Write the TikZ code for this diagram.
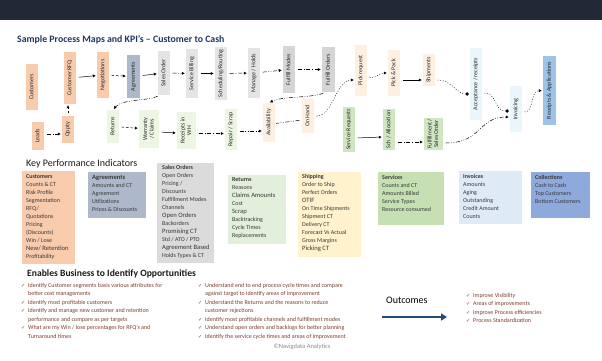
\documentclass[tikz,border=0pt]{standalone}
\usepackage{fontspec}
\usepackage{graphicx}
\setmainfont{Carlito}
\newfontfamily\symfont{DejaVu Sans}
\usetikzlibrary{arrows.meta}

% palette
\definecolor{cBar}{HTML}{222835}
\definecolor{cTitle}{HTML}{203864}
\definecolor{cPeach}{HTML}{F8CBAD}
\definecolor{cSlate}{HTML}{ADB9CA}
\definecolor{cGrayL}{HTML}{E4E4E4}
\definecolor{cGrayM}{HTML}{D5D5D5}
\definecolor{cGreenL}{HTML}{ECF6E2}
\definecolor{cOrangeL}{HTML}{FDF0E1}
\definecolor{cGreenM}{HTML}{D0E6C2}
\definecolor{cBlueXL}{HTML}{EAF5FC}
\definecolor{cBlueM}{HTML}{9DC3E6}
\definecolor{kSales}{HTML}{DBDBDB}
\definecolor{kReturns}{HTML}{E2EFDA}
\definecolor{kShip}{HTML}{FFF2CC}
\definecolor{kServ}{HTML}{C6E0B4}
\definecolor{kInv}{HTML}{DEEBF7}
\definecolor{kColl}{HTML}{8EA9DB}
\definecolor{cList}{HTML}{7A3E30}
\definecolor{cNavy}{HTML}{1F4E79}

% vertical label inside a process box
\newcommand\vt[1]{\rotatebox{90}{\begin{tabular}{@{}c@{}}#1\end{tabular}}}
% emphasised KPI line
\newcommand\bg[1]{{\fontsize{6.6}{8}\selectfont #1}}
% list bullets
\newcommand\chk{\makebox[7pt][l]{\symfont\fontsize{5}{5}\selectfont ✓}}
\newcommand\nochk{\hspace*{7pt}}

\tikzset{
  pbox/.style={draw=none, inner sep=0pt, font=\fontsize{6}{6.6}\selectfont, text=black!85},
  kbox/.style={draw=none, inner sep=0pt, anchor=north west},
  ktext/.style={anchor=north west, align=left, inner sep=0pt,
                font=\fontsize{6}{8}\selectfont, text=black!78},
  conn/.style={line width=0.5pt, black, shorten <=2.5pt, shorten >=1pt,
               -{Latex[length=3pt,width=3.2pt]}},
  solidc/.style={conn},
  dashc/.style={conn, dash pattern=on 2.5pt off 2pt},
  ddc/.style={conn, dash pattern=on 4pt off 2pt on 0.7pt off 2pt},
  dddc/.style={conn, dash pattern=on 4pt off 1.6pt on 0.7pt off 1.6pt on 0.7pt off 1.6pt},
  dotc/.style={conn, dash pattern=on 0.8pt off 1.8pt},
  dotend/.style={conn, dash pattern=on 0.8pt off 1.8pt, -{Circle[length=3.4pt]}},
  listtext/.style={anchor=north west, align=left, inner sep=0pt,
                   font=\fontsize{6}{8.5}\selectfont, text=cList},
}

\begin{document}
\begin{tikzpicture}[x=1pt,y=-1pt]
\useasboundingbox (0,0) rectangle (602,360);
\fill[white] (0,0) rectangle (602,360);
\fill[cBar] (0,0) rectangle (602,20);

\node[anchor=base west, inner sep=0pt, text=cTitle, font=\fontsize{9.8}{11}\selectfont\bfseries]
  (title) at (17,42) {Sample Process Maps and KPI’s – Customer to Cash};

% ---------- process boxes, upper flow ----------
\node[pbox, fill=cPeach, minimum width=12pt, minimum height=46pt] (cust) at (32,87) {\vt{Customers}};
\node[pbox, fill=cPeach, minimum width=12pt, minimum height=52pt] (crfq) at (70,78) {\vt{Customer RFQ}};
\node[pbox, fill=cPeach, minimum width=12pt, minimum height=46pt] (nego) at (103,75) {\vt{Negotiations}};
\node[pbox, fill=cSlate, minimum width=13pt, minimum height=43pt] (agre) at (133.5,76.5) {\vt{Agreements}};
\node[pbox, fill=cGrayL, minimum width=12pt, minimum height=44pt] (so) at (164,73) {\vt{Sales Order}};
\node[pbox, fill=cGrayL, minimum width=12pt, minimum height=49pt] (sbill) at (192,73.5) {\vt{Service Billing}};
\node[pbox, fill=cGrayL, minimum width=12pt, minimum height=53pt] (sched) at (221,73.5) {\vt{Scheduling/Routing}};
\node[pbox, fill=cGrayL, minimum width=12pt, minimum height=50pt] (manage) at (254,73) {\vt{Manage / Holds}};
\node[pbox, fill=cGrayM, minimum width=12pt, minimum height=47pt] (fmodes) at (289,69.5) {\vt{Fulfill Modes}};
\node[pbox, fill=cGrayM, minimum width=13pt, minimum height=45pt] (forders) at (328.5,69.5) {\vt{Fulfill Orders}};
\node[pbox, fill=cOrangeL, minimum width=12pt, minimum height=51pt] (pickreq) at (361,70.5) {\vt{Pick request}};
\node[pbox, fill=cOrangeL, minimum width=12pt, minimum height=46pt] (pickpack) at (394,73) {\vt{Pick \& Pack}};
\node[pbox, fill=cOrangeL, minimum width=12pt, minimum height=32pt] (ship) at (429,70) {\vt{Shipments}};
\node[pbox, fill=cBlueXL, minimum width=12pt, minimum height=72pt] (accept) at (476,84) {\vt{Acceptance / receipts}};
\node[pbox, fill=cBlueXL, minimum width=12pt, minimum height=46pt] (invoicing) at (516,109) {\vt{Invoicing}};
\node[pbox, fill=cBlueM, minimum width=13pt, minimum height=69pt] (rapp) at (549.5,90.5) {\vt{Receipts \& Applications}};

% ---------- process boxes, lower flow ----------
\node[pbox, fill=cPeach, minimum width=12pt, minimum height=28pt] (leads) at (38,136) {\vt{Leads}};
\node[pbox, fill=cPeach, minimum width=12pt, minimum height=27pt] (oppty) at (68,129.5) {\vt{Oppty}};
\node[pbox, fill=cGreenL, minimum width=12pt, minimum height=33pt] (returns) at (113,126.5) {\vt{Returns}};
\node[pbox, fill=cGreenL, minimum width=20pt, minimum height=38pt] (warranty) at (149,129) {\vt{Warranty\\/ Claims}};
\node[pbox, fill=cGreenL, minimum width=19pt, minimum height=37pt] (rwh) at (186.5,130.5) {\vt{Receipts in\\WH}};
\node[pbox, fill=cGreenL, minimum width=12pt, minimum height=41pt] (repair) at (231,129.5) {\vt{Repair / Scrap}};
\node[pbox, fill=cOrangeL, minimum width=12pt, minimum height=39pt] (avail) at (269,122.5) {\vt{Availability}};
\node[pbox, fill=cOrangeL, minimum width=12pt, minimum height=34pt] (onhand) at (308,116) {\vt{On Hand}};
\node[pbox, fill=cGreenM, minimum width=12pt, minimum height=45pt] (sreq) at (349,129.5) {\vt{Service Requests}};
\node[pbox, fill=cGreenM, minimum width=12pt, minimum height=41pt] (sch) at (389,129.5) {\vt{Sch / Allocation}};
\node[pbox, fill=cGreenM, minimum width=19pt, minimum height=32pt] (fso) at (433.5,134) {\vt{Fulfillment /\\Sales Order}};

% ---------- connectors, upper flow ----------
\draw[solidc] (crfq) -- (nego);
\draw[dashc] (nego) -- (agre);
\draw[solidc] (agre) -- (so);
\draw[dddc] (so) -- (sbill);
\draw[solidc] (sbill) -- (sched);
\draw[ddc] (sched) -- (manage);
\draw[dddc] (manage) -- (fmodes);
\draw[ddc] (fmodes) -- (forders);
\draw[dddc] ([xshift=-3pt]forders.south) .. controls (312,98) and (283,96) .. (avail.north);
\draw[dotc] (onhand.east) .. controls (333,116) and (336,80) .. ([yshift=-9.5pt]pickreq.west);
\draw[dotc] ([yshift=-7pt]pickreq.east) .. controls (378,78) and (378,73) .. (pickpack.west);
\draw[solidc] ([yshift=-7pt]pickpack.east) -- ([yshift=-10pt]ship.west);
\draw[dotend] ([yshift=-10pt]ship.east) .. controls (452,80) and (456,94) .. ([yshift=-10pt]accept.west);
\draw[dotend] ([yshift=-9pt]accept.east) .. controls (497,93) and (494,111) .. ([yshift=-2pt]invoicing.west);
\draw[dotc] ([yshift=-3pt]invoicing.east) .. controls (534,112) and (530,91) .. (rapp.west);
\draw[dddc] ([xshift=2pt]so.south west) .. controls (148,101) and (122,99) .. (returns.north);

% ---------- connectors, lower flow ----------
\draw[dashc] (oppty.north) -- (oppty.north |- crfq.south);
\draw[ddc] ([yshift=2pt]leads.east) -- ([yshift=-4.5pt]oppty.west);
\draw[dashc] (returns) -- (warranty);
\draw[solidc] ([yshift=-3pt]warranty.east) -- ([yshift=-2.5pt]rwh.west);
\draw[ddc] ([yshift=-3pt]rwh.east) -- ([yshift=-4pt]repair.west);
\draw[dddc] ([yshift=-1.5pt]repair.east) -- ([yshift=-8.5pt]avail.west);
\draw[dddc, -] ([yshift=-4pt]onhand.west) -- ([yshift=-1pt]avail.east);
\draw[solidc] ([yshift=-8.5pt]sreq.east) -- ([yshift=-7.5pt]sch.west);
\draw[ddc] ([yshift=-12.5pt]sch.east) -- ([yshift=-8pt]fso.west);
\draw[dddc] ([yshift=-9pt]fso.east) .. controls (482,143) and (478,117) .. ([yshift=-8pt]invoicing.west);

% ---------- KPI section ----------
\node[anchor=base west, inner sep=0pt, font=\fontsize{10}{11}\selectfont, text=black!90]
  (kpihead) at (26,166) {Key Performance Indicators};

\node[kbox, fill=cPeach, minimum width=53pt, minimum height=93pt] (kcust) at (22,171) {};
\node[ktext] at ([shift={(4pt,-3pt)}]kcust.north west)
  {\textbf{Customers}\\Counts \& CT\\Risk Profile\\Segmentation\\RFQ/\\Quotations\\Pricing\\(Discounts)\\Win / Lose\\\bg{New/ Retention}\\Profitability};

\node[kbox, fill=cSlate, minimum width=58pt, minimum height=46pt] (kagre) at (88,172) {};
\node[ktext] at ([shift={(4pt,-3pt)}]kagre.north west)
  {\bg{\textbf{Agreements}}\\Amounts and CT\\Agreement\\Utilizations\\Prices \& Discounts};

\node[kbox, fill=kSales, minimum width=57pt, minimum height=100pt] (ksales) at (157,163) {};
\node[ktext] at ([shift={(5pt,-2pt)}]ksales.north west)
  {\textbf{Sales Orders}\\Open Orders\\Pricing /\\Discounts\\Fulfillment Modes\\Channels\\\bg{Open Orders}\\Backorders\\\bg{Promising CT}\\Std / ATO / PTO\\\bg{Agreement Based}\\Holds Types \& CT};

\node[kbox, fill=kReturns, minimum width=58pt, minimum height=69pt] (kret) at (228,175) {};
\node[ktext] at ([shift={(4pt,-2pt)}]kret.north west)
  {\textbf{Returns}\\Reasons\\\bg{Claims Amounts}\\Cost\\\bg{Scrap}\\Backtracking\\Cycle Times\\Replacements};

\node[kbox, fill=kShip, minimum width=63pt, minimum height=85pt] (kship) at (298,172) {};
\node[ktext] at ([shift={(4pt,-2pt)}]kship.north west)
  {\textbf{Shipping}\\Order to Ship\\Perfect Orders\\\bg{OTIF}\\On Time Shipments\\Shipment CT\\Delivery CT\\Forecast Vs Actual\\Gross Margins\\\bg{Picking CT}};

\node[kbox, fill=kServ, minimum width=66pt, minimum height=53pt] (kserv) at (378,172) {};
\node[ktext] at ([shift={(4pt,-3pt)}]kserv.north west)
  {\textbf{Services}\\Counts and CT\\Amounts Billed\\Service Types\\Resource consumed};

\node[kbox, fill=kInv, minimum width=63pt, minimum height=53pt] (kinv) at (459,171) {};
\node[ktext] at ([shift={(4pt,-3pt)}]kinv.north west)
  {\textbf{Invoices}\\Amounts\\Aging\\Outstanding\\Credit Amount\\Counts};

\node[kbox, fill=kColl, minimum width=59pt, minimum height=46pt] (kcoll) at (531,172) {};
\node[ktext] at ([shift={(4pt,-3pt)}]kcoll.north west)
  {\textbf{Collections}\\Cash to Cash\\Top Customers\\Bottom Customers};

% ---------- opportunities ----------
\node[anchor=base west, inner sep=0pt, font=\fontsize{9.6}{10.5}\selectfont\bfseries, text=black!90]
  (opphead) at (27,276) {Enables Business to Identify Opportunities};

\node[listtext] (oppleft) at (21,283)
  {\chk Identify Customer segments basis various attributes for\\
   \nochk better cost managements\\
   \chk Identify most profitable customers\\
   \chk Identify and manage new customer and retention\\
   \nochk performance and compare as per targets\\
   \chk What are my Win / lose percentages for RFQ’s and\\
   \nochk Turnaround times};

\node[listtext] (oppright) at (198,283)
  {\chk Understand end to end process cycle times and compare\\
   \nochk against target to identify areas of improvement\\
   \chk Understand the Returns and the reasons to reduce\\
   \nochk customer rejections\\
   \chk Identify most profitable channels and fulfillment modes\\
   \chk Understand open orders and backlogs for better planning\\
   \chk Identify the service cycle times and areas of improvement};

\node[anchor=base, inner sep=0pt, font=\fontsize{6.5}{7}\selectfont, text=black!45]
  (copyr) at (302,348) {©Navigdata Analytics};

% ---------- outcomes ----------
\node[anchor=base west, inner sep=0pt, font=\fontsize{10}{11}\selectfont, text=black]
  (outhead) at (386,303) {Outcomes};
\coordinate (oa) at (382,317);
\coordinate (ob) at (447,317);
\draw[line width=2pt, cNavy, -{Triangle[length=6pt,width=7pt]}] (oa) -- (ob);

\node[listtext] (outlist) at (466,293)
  {\chk Improve Visibility\\
   \chk Areas of improvements\\
   \chk Improve Process efficiencies\\
   \chk Process Standardization};
\end{tikzpicture}
\end{document}
